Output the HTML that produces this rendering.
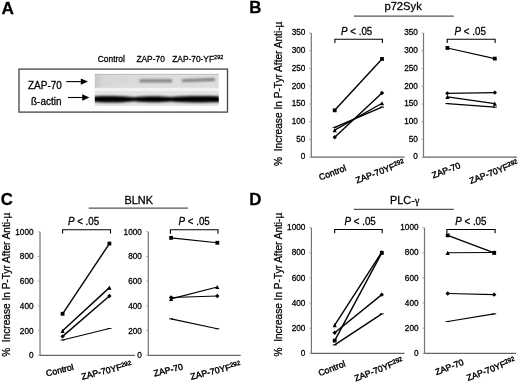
<!DOCTYPE html>
<html><head><meta charset="utf-8"><title>Figure</title>
<style>
html,body{margin:0;padding:0;background:#fff;}
body{width:520px;height:390px;overflow:hidden;font-family:"Liberation Sans",sans-serif;}
svg{display:block;font-family:"Liberation Sans",sans-serif;fill:#000;}
text{stroke:#000;stroke-width:0.28px;stroke-linejoin:round;}
</style></head><body>
<svg width="520" height="390" viewBox="0 0 520 390">
<defs>
<filter id="bl" x="-5%" y="-50%" width="110%" height="200%"><feGaussianBlur stdDeviation="1.2 1.05"/></filter>
<filter id="bl2" x="-5%" y="-50%" width="110%" height="200%"><feGaussianBlur stdDeviation="1.2 0.8"/></filter>
<filter id="soft" x="0" y="0" width="520" height="390" filterUnits="userSpaceOnUse"><feGaussianBlur stdDeviation="0.38"/></filter>
<linearGradient id="gU" x1="0" x2="1" y1="0" y2="0"><stop offset="0" stop-color="#c6c6c6"/><stop offset="0.06" stop-color="#d6d6d6"/><stop offset="0.3" stop-color="#dcdcdc"/><stop offset="1" stop-color="#dedede"/></linearGradient>
<clipPath id="cpL"><rect x="94.8" y="91" width="124" height="14.9"/></clipPath>
</defs>
<rect width="520" height="390" fill="#fff"/>
<g filter="url(#soft)">

<text x="1.6" y="13.9" font-size="17.2" font-weight="bold">A</text>
<text x="249.2" y="13.4" font-size="16.8" font-weight="bold">B</text>
<text x="0.8" y="205" font-size="16.8" font-weight="bold">C</text>
<text x="249.3" y="204.6" font-size="16.8" font-weight="bold">D</text>
<rect x="19" y="69.1" width="208.5" height="43" fill="#fff" stroke="#4a4a4a" stroke-width="1.35"/>
<text x="97.8" y="62.1" font-size="8.4">Control</text>
<text x="136.4" y="62.1" font-size="8.4">ZAP-70</text>
<text x="172.2" y="62.1" font-size="8.4">ZAP-70-YF<tspan font-size="5.5" dy="-3.2">292</tspan></text>
<text x="28" y="88.7" font-size="10">ZAP-70</text>
<text x="31" y="104.9" font-size="10">ß-actin</text>
<path d="M66.2 81.6H83" stroke="#000" stroke-width="1.1"/><path d="M88 81.6L80.8 78.4V84.8Z" fill="#000"/>
<path d="M68 97.5H84" stroke="#000" stroke-width="1.1"/><path d="M89.4 97.5L82.2 94.3V100.7Z" fill="#000"/>
<rect x="94.8" y="73.9" width="124" height="14" fill="url(#gU)"/>
<rect x="94.8" y="87.9" width="124" height="3.2" fill="#f2f2f2"/>
<rect x="94.8" y="91" width="124" height="14.9" fill="#e3e3e3"/>
<rect x="94.8" y="73.9" width="124" height="0.9" fill="#bdbdbd"/>
<g filter="url(#bl2)"><rect x="139.5" y="79.4" width="32.5" height="2.9" fill="#7a7a7a"/><path d="M182 79.2L214.8 78V80.9L182 82.1Z" fill="#7a7a7a"/><rect x="118" y="80.6" width="10" height="1" fill="#c8c8c8"/></g>
<g clip-path="url(#cpL)"><g filter="url(#bl)"><path d="M93 96.4 C105 95.6 124 95.8 134 97.3 C145 96 160 96 171 97 C185 95.8 205 95.6 221 96.4 V102.1 C205 102.9 185 102.7 171 101.6 C160 102.6 145 102.6 134 101.2 C124 102.7 105 102.9 93 102.1Z" fill="#000"/></g></g>
<text transform="translate(282.2 165.9) rotate(-90)" font-size="10.14">%&#160;&#160;Increase In P-Tyr After Anti-µ</text>
<text transform="translate(9.5 356.8) rotate(-90)" font-size="10.12">%&#160;&#160;Increase In P-Tyr After Anti-µ</text>
<text transform="translate(282.2 356.4) rotate(-90)" font-size="10.09">%&#160;&#160;Increase In P-Tyr After Anti-µ</text>
<text x="403.1" y="10" text-anchor="middle" font-size="11.2">p72Syk</text>
<path d="M353.8 16.2H453.8" stroke="#555" stroke-width="1.2"/>
<text x="138.75" y="203.8" text-anchor="middle" font-size="10.9">BLNK</text>
<path d="M88.7 208.1H188" stroke="#555" stroke-width="1.2"/>
<text x="390" y="203.8" font-size="10.9">PLC-<tspan font-family="Liberation Serif" font-size="10.5">γ</tspan></text>
<path d="M353.8 209.3H453.8" stroke="#555" stroke-width="1.2"/>
<path d="M311.3 33.1V157.1" fill="none" stroke="#757575" stroke-width="1.2"/>
<path d="M310.75 157.1H404.5" fill="none" stroke="#666" stroke-width="1.25"/>
<path d="M309.1 157.1H311.3" stroke="#999" stroke-width="0.8"/>
<text x="305.3" y="159.4" text-anchor="end" font-size="8.2">0</text>
<path d="M309.1 139.4H311.3" stroke="#999" stroke-width="0.8"/>
<text x="305.3" y="141.7" text-anchor="end" font-size="8.2">50</text>
<path d="M309.1 121.7H311.3" stroke="#999" stroke-width="0.8"/>
<text x="305.3" y="124.0" text-anchor="end" font-size="8.2">100</text>
<path d="M309.1 104.0H311.3" stroke="#999" stroke-width="0.8"/>
<text x="305.3" y="106.3" text-anchor="end" font-size="8.2">150</text>
<path d="M309.1 86.2H311.3" stroke="#999" stroke-width="0.8"/>
<text x="305.3" y="88.6" text-anchor="end" font-size="8.2">200</text>
<path d="M309.1 68.5H311.3" stroke="#999" stroke-width="0.8"/>
<text x="305.3" y="70.9" text-anchor="end" font-size="8.2">250</text>
<path d="M309.1 50.8H311.3" stroke="#999" stroke-width="0.8"/>
<text x="305.3" y="53.2" text-anchor="end" font-size="8.2">300</text>
<path d="M309.1 33.1H311.3" stroke="#999" stroke-width="0.8"/>
<text x="305.3" y="35.4" text-anchor="end" font-size="8.2">350</text>
<path d="M334.7 110.33L382 58.96" stroke="#000" stroke-width="1.4" fill="none"/>
<rect x="332.80" y="108.43" width="3.80" height="3.80" fill="#000"/>
<rect x="380.10" y="57.06" width="3.80" height="3.80" fill="#000"/>
<path d="M334.7 127.34L382 107.14" stroke="#000" stroke-width="1.4" fill="none"/>
<path d="M332.70 127.34h4" stroke="#000" stroke-width="1"/>
<path d="M380.00 107.14h4" stroke="#000" stroke-width="1"/>
<path d="M334.7 130.17L382 103.25" stroke="#000" stroke-width="1.4" fill="none"/>
<path d="M334.70 128.08L336.79 132.26L332.61 132.26Z" fill="#000"/>
<path d="M382.00 101.16L384.09 105.34L379.91 105.34Z" fill="#000"/>
<path d="M334.7 137.26L382 92.97" stroke="#000" stroke-width="1.4" fill="none"/>
<path d="M334.70 135.07L336.88 137.26L334.70 139.44L332.51 137.26Z" fill="#000"/>
<path d="M382.00 90.79L384.19 92.97L382.00 95.16L379.81 92.97Z" fill="#000"/>
<path d="M334.9 42.9V39.2H382.4V42.9" fill="none" stroke="#000" stroke-width="1.1"/>
<text transform="translate(341 34.8) scale(1 1.13)" font-size="9.8"><tspan font-style="italic">P</tspan> &lt; .05</text>
<text transform="translate(333.6 175.4) rotate(-21)" text-anchor="middle" font-size="8.8" style="stroke-width:0.4px">Control</text>
<text transform="translate(381.1 174.3) rotate(-21)" text-anchor="middle" font-size="8.8" style="stroke-width:0.4px">ZAP-70YF<tspan font-size="6.2" dy="-2.7">292</tspan></text>
<path d="M423.5 33.1V157.1" fill="none" stroke="#757575" stroke-width="1.2"/>
<path d="M422.95 157.1H517" fill="none" stroke="#666" stroke-width="1.25"/>
<path d="M421.3 157.1H423.5" stroke="#999" stroke-width="0.8"/>
<text x="417.8" y="159.4" text-anchor="end" font-size="8.2">0</text>
<path d="M421.3 139.4H423.5" stroke="#999" stroke-width="0.8"/>
<text x="417.8" y="141.7" text-anchor="end" font-size="8.2">50</text>
<path d="M421.3 121.7H423.5" stroke="#999" stroke-width="0.8"/>
<text x="417.8" y="124.0" text-anchor="end" font-size="8.2">100</text>
<path d="M421.3 104.0H423.5" stroke="#999" stroke-width="0.8"/>
<text x="417.8" y="106.3" text-anchor="end" font-size="8.2">150</text>
<path d="M421.3 86.2H423.5" stroke="#999" stroke-width="0.8"/>
<text x="417.8" y="88.6" text-anchor="end" font-size="8.2">200</text>
<path d="M421.3 68.5H423.5" stroke="#999" stroke-width="0.8"/>
<text x="417.8" y="70.9" text-anchor="end" font-size="8.2">250</text>
<path d="M421.3 50.8H423.5" stroke="#999" stroke-width="0.8"/>
<text x="417.8" y="53.2" text-anchor="end" font-size="8.2">300</text>
<path d="M421.3 33.1H423.5" stroke="#999" stroke-width="0.8"/>
<text x="417.8" y="35.4" text-anchor="end" font-size="8.2">350</text>
<path d="M447.4 47.98L494.8 58.60" stroke="#000" stroke-width="1.1" fill="none"/>
<rect x="445.50" y="46.08" width="3.80" height="3.80" fill="#000"/>
<rect x="492.90" y="56.70" width="3.80" height="3.80" fill="#000"/>
<path d="M447.4 93.33L494.8 92.62" stroke="#000" stroke-width="1.1" fill="none"/>
<path d="M447.40 91.14L449.58 93.33L447.40 95.51L445.21 93.33Z" fill="#000"/>
<path d="M494.80 90.43L496.99 92.62L494.80 94.80L492.62 92.62Z" fill="#000"/>
<path d="M447.4 96.87L494.8 103.60" stroke="#000" stroke-width="1.1" fill="none"/>
<path d="M447.40 94.78L449.49 98.96L445.31 98.96Z" fill="#000"/>
<path d="M494.80 101.51L496.89 105.69L492.71 105.69Z" fill="#000"/>
<path d="M447.4 103.60L494.8 107.14" stroke="#000" stroke-width="1.1" fill="none"/>
<path d="M445.40 103.60h4" stroke="#000" stroke-width="1"/>
<path d="M492.80 107.14h4" stroke="#000" stroke-width="1"/>
<path d="M447.2 42.9V39.2H495.1V42.9" fill="none" stroke="#000" stroke-width="1.1"/>
<text transform="translate(454.6 34.8) scale(1 1.13)" font-size="9.8"><tspan font-style="italic">P</tspan> &lt; .05</text>
<text transform="translate(447.1 173.2) rotate(-21)" text-anchor="middle" font-size="8.8" style="stroke-width:0.4px">ZAP-70</text>
<text transform="translate(494.8 174.7) rotate(-21)" text-anchor="middle" font-size="8.8" style="stroke-width:0.4px">ZAP-70YF<tspan font-size="6.2" dy="-2.7">292</tspan></text>
<path d="M40.0 231.8V355.3" fill="none" stroke="#757575" stroke-width="1.2"/>
<path d="M39.45 355.3H135" fill="none" stroke="#666" stroke-width="1.25"/>
<path d="M37.8 355.3H40.0" stroke="#999" stroke-width="0.8"/>
<text x="33.5" y="358.2" text-anchor="end" font-size="8.2">0</text>
<path d="M37.8 330.6H40.0" stroke="#999" stroke-width="0.8"/>
<text x="33.5" y="333.5" text-anchor="end" font-size="8.2">200</text>
<path d="M37.8 305.9H40.0" stroke="#999" stroke-width="0.8"/>
<text x="33.5" y="308.8" text-anchor="end" font-size="8.2">400</text>
<path d="M37.8 281.2H40.0" stroke="#999" stroke-width="0.8"/>
<text x="33.5" y="284.1" text-anchor="end" font-size="8.2">600</text>
<path d="M37.8 256.5H40.0" stroke="#999" stroke-width="0.8"/>
<text x="33.5" y="259.4" text-anchor="end" font-size="8.2">800</text>
<path d="M37.8 231.8H40.0" stroke="#999" stroke-width="0.8"/>
<text x="33.5" y="234.7" text-anchor="end" font-size="8.2">1000</text>
<path d="M62.6 313.80L109.4 243.53" stroke="#000" stroke-width="1.4" fill="none"/>
<rect x="60.70" y="311.90" width="3.80" height="3.80" fill="#000"/>
<rect x="107.50" y="241.63" width="3.80" height="3.80" fill="#000"/>
<path d="M62.6 330.85L109.4 287.62" stroke="#000" stroke-width="1.4" fill="none"/>
<path d="M62.60 328.76L64.69 332.94L60.51 332.94Z" fill="#000"/>
<path d="M109.40 285.53L111.49 289.71L107.31 289.71Z" fill="#000"/>
<path d="M62.6 336.40L109.4 296.02" stroke="#000" stroke-width="1.4" fill="none"/>
<path d="M62.60 334.22L64.78 336.40L62.60 338.59L60.41 336.40Z" fill="#000"/>
<path d="M109.40 293.83L111.59 296.02L109.40 298.20L107.22 296.02Z" fill="#000"/>
<path d="M62.6 339.99L109.4 328.50" stroke="#000" stroke-width="1.1" fill="none"/>
<path d="M60.60 339.99h4" stroke="#000" stroke-width="1"/>
<path d="M107.40 328.50h4" stroke="#000" stroke-width="1"/>
<path d="M62.6 233.6V229.8H110.5V233.6" fill="none" stroke="#000" stroke-width="1.1"/>
<text transform="translate(67.9 224.5) scale(1 1.13)" font-size="9.8"><tspan font-style="italic">P</tspan> &lt; .05</text>
<text transform="translate(60.5 373.1) rotate(-14)" text-anchor="middle" font-size="8.8" style="stroke-width:0.4px">Control</text>
<text transform="translate(107.2 373.5) rotate(-14)" text-anchor="middle" font-size="8.8" style="stroke-width:0.4px">ZAP-70YF<tspan font-size="6.2" dy="-2.7">292</tspan></text>
<path d="M148.3 231.8V355.3" fill="none" stroke="#757575" stroke-width="1.2"/>
<path d="M147.75 355.3H240.7" fill="none" stroke="#666" stroke-width="1.25"/>
<path d="M146.10000000000002 355.3H148.3" stroke="#999" stroke-width="0.8"/>
<text x="141.8" y="358.2" text-anchor="end" font-size="8.2">0</text>
<path d="M146.10000000000002 330.6H148.3" stroke="#999" stroke-width="0.8"/>
<text x="141.8" y="333.5" text-anchor="end" font-size="8.2">200</text>
<path d="M146.10000000000002 305.9H148.3" stroke="#999" stroke-width="0.8"/>
<text x="141.8" y="308.8" text-anchor="end" font-size="8.2">400</text>
<path d="M146.10000000000002 281.2H148.3" stroke="#999" stroke-width="0.8"/>
<text x="141.8" y="284.1" text-anchor="end" font-size="8.2">600</text>
<path d="M146.10000000000002 256.5H148.3" stroke="#999" stroke-width="0.8"/>
<text x="141.8" y="259.4" text-anchor="end" font-size="8.2">800</text>
<path d="M146.10000000000002 231.8H148.3" stroke="#999" stroke-width="0.8"/>
<text x="141.8" y="234.7" text-anchor="end" font-size="8.2">1000</text>
<path d="M171.1 237.85L217.3 242.79" stroke="#000" stroke-width="1.1" fill="none"/>
<rect x="169.20" y="235.95" width="3.80" height="3.80" fill="#000"/>
<rect x="215.40" y="240.89" width="3.80" height="3.80" fill="#000"/>
<path d="M171.1 297.50L217.3 296.02" stroke="#000" stroke-width="1.1" fill="none"/>
<path d="M171.10 295.32L173.28 297.50L171.10 299.69L168.91 297.50Z" fill="#000"/>
<path d="M217.30 293.83L219.49 296.02L217.30 298.20L215.12 296.02Z" fill="#000"/>
<path d="M171.1 298.86L217.3 287.00" stroke="#000" stroke-width="1.1" fill="none"/>
<path d="M171.10 296.77L173.19 300.95L169.01 300.95Z" fill="#000"/>
<path d="M217.30 284.91L219.39 289.09L215.21 289.09Z" fill="#000"/>
<path d="M171.1 318.87L217.3 328.75" stroke="#000" stroke-width="1.1" fill="none"/>
<path d="M169.10 318.87h4" stroke="#000" stroke-width="1"/>
<path d="M215.30 328.75h4" stroke="#000" stroke-width="1"/>
<path d="M170.4 233.7V229.8H218V233.7" fill="none" stroke="#000" stroke-width="1.1"/>
<text transform="translate(178.5 224.5) scale(1 1.13)" font-size="9.8"><tspan font-style="italic">P</tspan> &lt; .05</text>
<text transform="translate(169 373) rotate(-14)" text-anchor="middle" font-size="8.8" style="stroke-width:0.4px">ZAP-70</text>
<text transform="translate(216.2 373.6) rotate(-14)" text-anchor="middle" font-size="8.8" style="stroke-width:0.4px">ZAP-70YF<tspan font-size="6.2" dy="-2.7">292</tspan></text>
<path d="M311.4 227.7V353.3" fill="none" stroke="#757575" stroke-width="1.2"/>
<path d="M310.84999999999997 353.3H404.5" fill="none" stroke="#666" stroke-width="1.25"/>
<path d="M309.2 353.3H311.4" stroke="#999" stroke-width="0.8"/>
<text x="305.3" y="355.9" text-anchor="end" font-size="8.2">0</text>
<path d="M309.2 328.2H311.4" stroke="#999" stroke-width="0.8"/>
<text x="305.3" y="330.8" text-anchor="end" font-size="8.2">200</text>
<path d="M309.2 303.1H311.4" stroke="#999" stroke-width="0.8"/>
<text x="305.3" y="305.7" text-anchor="end" font-size="8.2">400</text>
<path d="M309.2 277.9H311.4" stroke="#999" stroke-width="0.8"/>
<text x="305.3" y="280.5" text-anchor="end" font-size="8.2">600</text>
<path d="M309.2 252.8H311.4" stroke="#999" stroke-width="0.8"/>
<text x="305.3" y="255.4" text-anchor="end" font-size="8.2">800</text>
<path d="M309.2 227.7H311.4" stroke="#999" stroke-width="0.8"/>
<text x="305.3" y="230.3" text-anchor="end" font-size="8.2">1000</text>
<path d="M334.7 340.61L381.8 252.82" stroke="#000" stroke-width="1.4" fill="none"/>
<rect x="332.80" y="338.71" width="3.80" height="3.80" fill="#000"/>
<rect x="379.90" y="250.92" width="3.80" height="3.80" fill="#000"/>
<path d="M334.7 325.17L381.8 252.19" stroke="#000" stroke-width="1.4" fill="none"/>
<path d="M334.70 323.08L336.79 327.26L332.61 327.26Z" fill="#000"/>
<path d="M381.80 250.10L383.89 254.28L379.71 254.28Z" fill="#000"/>
<path d="M334.7 332.70L381.8 294.64" stroke="#000" stroke-width="1.4" fill="none"/>
<path d="M334.70 330.52L336.88 332.70L334.70 334.89L332.51 332.70Z" fill="#000"/>
<path d="M381.80 292.46L383.99 294.64L381.80 296.83L379.62 294.64Z" fill="#000"/>
<path d="M334.7 344.88L381.8 313.86" stroke="#000" stroke-width="1.4" fill="none"/>
<path d="M332.70 344.88h4" stroke="#000" stroke-width="1"/>
<path d="M379.80 313.86h4" stroke="#000" stroke-width="1"/>
<path d="M334.7 233.3V229.5H382.2V233.3" fill="none" stroke="#000" stroke-width="1.1"/>
<text transform="translate(344.5 224.5) scale(1 1.13)" font-size="9.8"><tspan font-style="italic">P</tspan> &lt; .05</text>
<text transform="translate(332.9 371.1) rotate(-21)" text-anchor="middle" font-size="8.8" style="stroke-width:0.4px">Control</text>
<text transform="translate(379.8 372.2) rotate(-21)" text-anchor="middle" font-size="8.8" style="stroke-width:0.4px">ZAP-70YF<tspan font-size="6.2" dy="-2.7">292</tspan></text>
<path d="M424.5 227.7V353.3" fill="none" stroke="#757575" stroke-width="1.2"/>
<path d="M423.95 353.3H516" fill="none" stroke="#666" stroke-width="1.25"/>
<path d="M422.3 353.3H424.5" stroke="#999" stroke-width="0.8"/>
<text x="418.5" y="355.9" text-anchor="end" font-size="8.2">0</text>
<path d="M422.3 328.2H424.5" stroke="#999" stroke-width="0.8"/>
<text x="418.5" y="330.8" text-anchor="end" font-size="8.2">200</text>
<path d="M422.3 303.1H424.5" stroke="#999" stroke-width="0.8"/>
<text x="418.5" y="305.7" text-anchor="end" font-size="8.2">400</text>
<path d="M422.3 277.9H424.5" stroke="#999" stroke-width="0.8"/>
<text x="418.5" y="280.5" text-anchor="end" font-size="8.2">600</text>
<path d="M422.3 252.8H424.5" stroke="#999" stroke-width="0.8"/>
<text x="418.5" y="255.4" text-anchor="end" font-size="8.2">800</text>
<path d="M422.3 227.7H424.5" stroke="#999" stroke-width="0.8"/>
<text x="418.5" y="230.3" text-anchor="end" font-size="8.2">1000</text>
<path d="M447.7 235.36L494.2 252.82" stroke="#000" stroke-width="1.4" fill="none"/>
<rect x="445.80" y="233.46" width="3.80" height="3.80" fill="#000"/>
<rect x="492.30" y="250.92" width="3.80" height="3.80" fill="#000"/>
<path d="M447.7 252.82L494.2 252.44" stroke="#000" stroke-width="1.1" fill="none"/>
<path d="M447.70 250.73L449.79 254.91L445.61 254.91Z" fill="#000"/>
<path d="M494.20 250.35L496.29 254.53L492.11 254.53Z" fill="#000"/>
<path d="M447.7 293.51L494.2 294.64" stroke="#000" stroke-width="1.1" fill="none"/>
<path d="M447.70 291.33L449.88 293.51L447.70 295.70L445.51 293.51Z" fill="#000"/>
<path d="M494.20 292.46L496.38 294.64L494.20 296.83L492.01 294.64Z" fill="#000"/>
<path d="M447.7 321.52L494.2 313.86" stroke="#000" stroke-width="1.1" fill="none"/>
<path d="M445.70 321.52h4" stroke="#000" stroke-width="1"/>
<path d="M492.20 313.86h4" stroke="#000" stroke-width="1"/>
<path d="M446.9 233.3V229.5H495.1V233.3" fill="none" stroke="#000" stroke-width="1.1"/>
<text transform="translate(455.2 224.5) scale(1 1.13)" font-size="9.8"><tspan font-style="italic">P</tspan> &lt; .05</text>
<text transform="translate(450.5 369.9) rotate(-21)" text-anchor="middle" font-size="8.8" style="stroke-width:0.4px">ZAP-70</text>
<text transform="translate(491.9 371.9) rotate(-21)" text-anchor="middle" font-size="8.8" style="stroke-width:0.4px">ZAP-70YF<tspan font-size="6.2" dy="-2.7">292</tspan></text>
</g></svg></body></html>
